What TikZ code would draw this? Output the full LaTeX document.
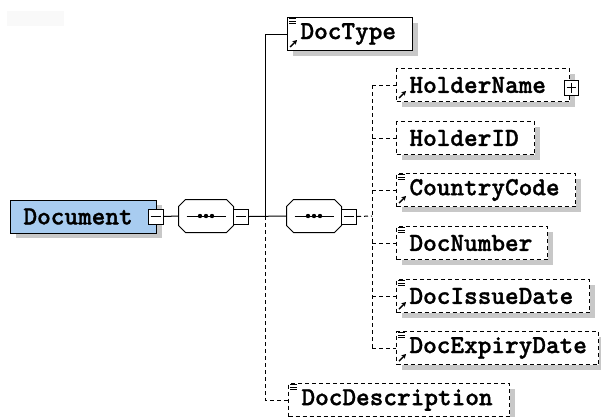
\documentclass[tikz,border=0pt]{standalone}
\usepackage{fontspec}
\newfontfamily\elemfont[AutoFakeBold=1.2]{lmmonolt10-bold.otf}
\usetikzlibrary{arrows.meta,shadows}

\definecolor{shade}{RGB}{200,200,200}
\definecolor{docblue}{RGB}{168,204,240}
\definecolor{haze}{RGB}{249,249,249}

\tikzset{
  elem/.style={draw=black, fill=white, rectangle, anchor=west,
    inner xsep=13pt, inner ysep=0pt, minimum height=33pt, align=left,
    font=\elemfont\bfseries\fontsize{26}{27}\selectfont,
    drop shadow={shadow xshift=5pt, shadow yshift=-5pt, fill=shade, opacity=1}},
  optional/.style={dash pattern=on 4pt off 3pt},
  seqbox/.style={rectangle, minimum width=54pt, minimum height=32pt, inner sep=0pt},
  toggle/.style={draw=black, fill=white, rectangle, inner sep=0pt,
    minimum width=15pt, minimum height=15pt},
  conn/.style={draw=black, line width=1pt},
}

% octagon outline of a sequence compositor around node #1
\newcommand\octpath[1]{([xshift=7pt]#1.north west) -- ([xshift=-7pt]#1.north east)
  -- ([yshift=-7pt]#1.north east) -- ([yshift=7pt]#1.south east)
  -- ([xshift=-7pt]#1.south east) -- ([xshift=7pt]#1.south west)
  -- ([yshift=7pt]#1.south west) -- ([yshift=-7pt]#1.north west) -- cycle}
% small "documented" mark in the top left corner of an element box
\newcommand\notemark[1]{%
  \fill[white] ([xshift=1.5pt,yshift=-0.5pt]#1.north west) rectangle ++(8.5,7.5);
  \foreach \k in {0,2.5,5}{
    \draw[line width=0.8pt] ([xshift=2pt,yshift=-1.5pt-\k pt]#1.north west) -- ++(7,0);}}
% reference arrow in the bottom left corner of an element box
\newcommand\refmark[1]{%
  \draw[line width=1.4pt,-{Stealth[length=4.5pt,width=5pt]}]
    ([xshift=3pt,yshift=4pt]#1.south west) -- ++(7,-7);}

\begin{document}
\begin{tikzpicture}[x=1pt,y=-1pt,line width=1pt]
\useasboundingbox (0,0) rectangle (601,416);
\fill[white] (0,0) rectangle (601,416);
\fill[haze] (7,11) rectangle (64,26);

% root element and the two sequence compositors
\node[elem, fill=docblue, text width=120pt] (doc) at (10,216.5) {Document};
\node[toggle] (docminus) at (155.5,216.5) {};
\node[seqbox] (seq1) at (206,216) {};
\node[seqbox] (seq2) at (314,216) {};
\foreach \s in {seq1,seq2}{
  \fill[shade, shift={(5,5)}] \octpath{\s};
  \draw[fill=white] \octpath{\s};
  \draw ([xshift=8pt]\s.west) -- ([xshift=-8pt]\s.east);
  \foreach \k in {-6,0,6}{\fill ([xshift=\k pt]\s.center) circle (2.2pt);}}
\node[toggle] (seq1minus) at (241,216.5) {};
\node[toggle] (seq2minus) at (349,216.5) {};
\foreach \m in {docminus,seq1minus,seq2minus}{
  \draw ([xshift=3pt]\m.west) -- ([xshift=-3pt]\m.east);}

% child elements
\node[elem, text width=99pt] (doctype) at (287,34) {DocType};
\node[elem, optional, text width=147pt] (holdername) at (396,85) {HolderName};
\node[elem, optional, text width=112pt] (holderid) at (396,138) {HolderID};
\node[elem, optional, text width=153pt] (countrycode) at (396,190) {CountryCode};
\node[elem, optional, text width=125pt] (docnumber) at (396,243) {DocNumber};
\node[elem, optional, text width=167pt] (docissue) at (396,296) {DocIssueDate};
\node[elem, optional, text width=176pt] (docexpiry) at (396,348) {DocExpiryDate};
\node[elem, optional, text width=195pt] (docdesc) at (288,400) {DocDescription};

\node[toggle, minimum width=14pt] (hnplus) at ([xshift=1pt,yshift=-2.5pt]holdername.east) {};
\draw ([xshift=3pt]hnplus.west) -- ([xshift=-3pt]hnplus.east);
\draw ([yshift=-3pt]hnplus.north) -- ([yshift=3pt]hnplus.south);

\foreach \e in {doctype,countrycode,docnumber,docissue,docexpiry,docdesc}{\notemark{\e}}
\foreach \e in {doctype,holdername,countrycode,docissue,docexpiry}{\refmark{\e}}

% connectors
\draw[conn] (docminus.east) -- (seq1.west);
\draw[conn] (seq1minus.east) -- (seq2.west);
\coordinate (fork) at (265,216);
\draw[conn] (doctype.west) -| (fork);
\draw[conn, optional] (fork) |- (docdesc.west);

\coordinate (bus) at (372,216);
\draw[conn, optional] (seq2minus.east) -- (bus);
\draw[conn, optional] (bus |- holdername.west) -- (bus |- docexpiry.west);
\foreach \e in {holdername,holderid,countrycode,docnumber,docissue,docexpiry}{
  \draw[conn, optional] (bus |- \e.west) -- (\e.west);}
\end{tikzpicture}
\end{document}
